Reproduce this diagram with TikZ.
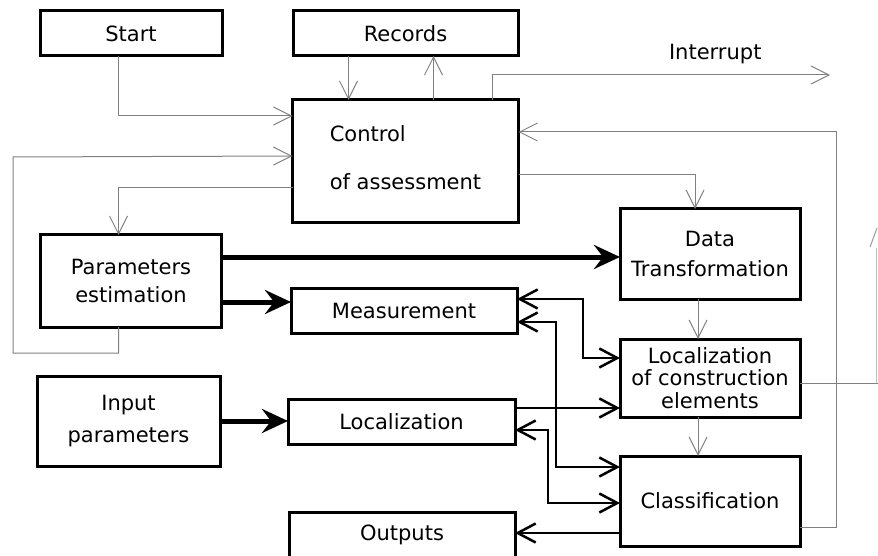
\documentclass[tikz,border=0pt]{standalone}
\usepackage{fontspec}
\setmainfont{DejaVu Sans}
\usetikzlibrary{positioning,arrows.meta}

\begin{document}
\begin{tikzpicture}[x=1pt, y=-1pt,
    every node/.style={font=\fontsize{21}{22.5}\selectfont},
    block/.style={draw, rectangle, line width=3pt, minimum height=45pt, inner sep=2pt, outer sep=0pt, align=center},
    signal/.style={draw=black!50, line width=1pt, >={Straight Barb[length=18pt,width=18pt]}},
    dataflow/.style={line width=5pt, >={Stealth[length=26pt,width=24pt,inset=9pt]}},
    exchange/.style={line width=2.5pt, >={Straight Barb[length=18pt,width=19pt]}}]
    \useasboundingbox (0,0) rectangle (878,556);

    % Blocks
    \node[block, minimum width=182pt] (start) at (131,33.5) {Start};
    \node[block, minimum width=225pt, right=71pt of start] (records) {Records};
    \node[block, minimum width=226pt, minimum height=123pt, align=left, text depth=8pt, below=44pt of records] (control) {Control\\[25pt]of assessment};
    \node[block, minimum width=181pt, minimum height=92pt, below=179pt of start] (params) {Parameters\\[6pt]estimation};
    \node[block, minimum width=183pt, minimum height=90pt] (input) at (128.5,421) {Input\\[9pt]parameters};
    \node[block, minimum width=226pt] (meas) at (404,311) {Measurement};
    \node[block, minimum width=227pt] (loc) at (401.5,422) {Localization};
    \node[block, minimum width=226pt] (outputs) at (402,535) {Outputs};
    \node[block, minimum width=180pt, minimum height=90pt] (data) at (710,254) {Data\\[8pt]Transformation};
    \node[block, minimum width=180pt, minimum height=78pt, below=40pt of data] (lce) {Localization\\of construction\\elements};
    \node[block, minimum width=180pt, minimum height=90pt, below=39pt of lce] (classif) {Classification};

    \coordinate (intr) at (830,75);
    \coordinate (exit) at (878,383);

    % Control lines
    \draw[signal, ->] ([xshift=-13pt]start.south) |- ([yshift=45.5pt]control.west);
    \draw[signal, ->] ([xshift=-57pt]records.south) -- ([xshift=-57pt]control.north);
    \draw[signal, ->] ([xshift=28pt]control.north) -- ([xshift=28pt]records.south);
    \draw[signal, ->] ([xshift=87pt]control.north) |- node[pos=0.83, above=8pt, inner sep=3pt] (intlabel) {Interrupt} (intr);
    \draw[signal, ->] ([xshift=-12.5pt]params.south) -- ++(0,26) -| (13,157) -- ([yshift=5.5pt]control.west);
    \draw[signal, ->] ([yshift=-26.5pt]control.west) -| ([xshift=-12.5pt]params.north);
    \draw[signal, ->] ([yshift=-13pt]control.east) -| ([xshift=-15pt]data.north);
    \draw[signal, ->] ([yshift=-26pt]classif.east) -- ++(36,0) |- ([yshift=29.5pt]control.east);
    \draw[signal, ->] ([xshift=-12pt]data.south) -- ([xshift=-12pt]lce.north);
    \draw[signal, ->] ([xshift=-12pt]lce.south) -- ([xshift=-12pt]classif.north);
    \draw[signal] ([yshift=-5pt]lce.east) -- (exit);
    \draw[black!40, line width=1pt] (870,247) -- (877,228);
    \draw[black!25, line width=1pt] (876.5,248) -- (876.5,383);

    % Data lines
    \draw[dataflow, ->] ([yshift=24pt]params.east) -- ([yshift=24pt]params.east -| data.west);
    \draw[dataflow, ->] ([yshift=-21pt]params.east) -- ([yshift=-21pt]params.east -| meas.west);
    \draw[dataflow, ->] (input.east) -- (input.east -| loc.west);

    % Exchange lines
    \draw[exchange, <->] ([yshift=12pt]meas.east) -- ++(66,0) |- ([yshift=20pt]lce.west);
    \draw[exchange, <->] ([yshift=-11pt]meas.east) -- ++(39,0) |- ([yshift=34pt]classif.west);
    \draw[exchange, ->] ([yshift=14pt]loc.east) -- ([yshift=14pt]loc.east -| lce.west);
    \draw[exchange, <->] ([yshift=-8pt]loc.east) -- ++(33,0) |- ([yshift=-2pt]classif.west);
    \draw[exchange, ->] ([yshift=-32pt]classif.west) -- ([yshift=-32pt]classif.west -| outputs.east);
\end{tikzpicture}
\end{document}
